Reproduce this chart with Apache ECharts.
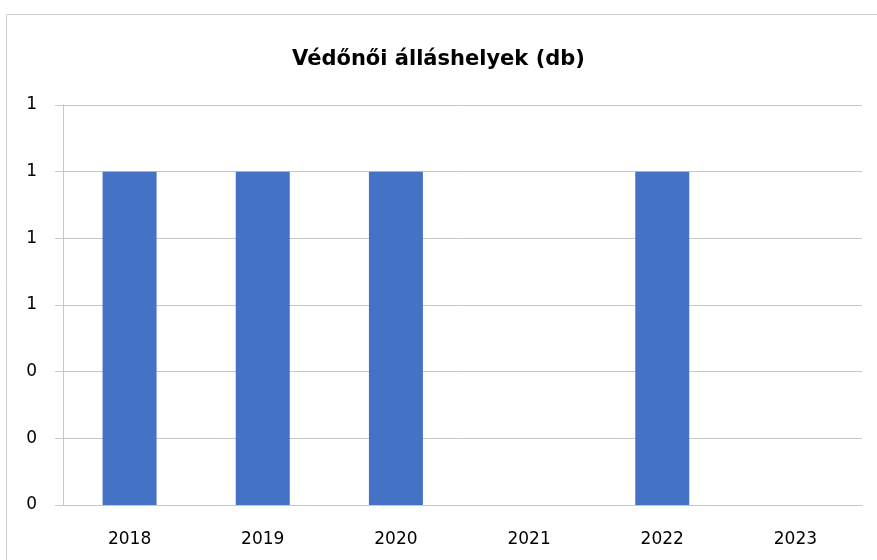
<!DOCTYPE html>
<html>
<head>
<meta charset="utf-8">
<script src="https://cdn.jsdelivr.net/npm/echarts@6/dist/echarts.min.js"></script>
<style>
  html, body { margin: 0; padding: 0; background: #fff; }
  #chart { width: 877px; height: 560px; }
</style>
</head>
<body>
<div id="chart"></div>
<script>
  // évek és védőnői álláshelyek száma
  var years = ['2018', '2019', '2020', '2021', '2022', '2023'];
  var positions = [1, 1, 1, 0, 1, 0];

  var chart = echarts.init(document.getElementById('chart'));
  var gray = '#c8c8c8';

  var option = {
    backgroundColor: '#fff',
    animation: false,
    title: {
      text: 'Védőnői álláshelyek (db)',
      left: 'center',
      top: 44,
      textStyle: {
        fontFamily: 'DejaVu Sans',
        fontWeight: 'bold',
        fontSize: 21,
        color: '#000'
      }
    },
    graphic: [{
      type: 'rect',
      shape: { x: 6.5, y: 14.5, width: 1000, height: 1000 },
      style: { fill: 'none', stroke: '#d0d0d0', lineWidth: 1 },
      silent: true
    }],
    grid: {
      left: 63,
      right: 15,
      top: 105,
      bottom: 55
    },
    xAxis: {
      type: 'category',
      data: years,
      axisLine: { lineStyle: { color: gray } },
      axisTick: { length: 8, lineStyle: { color: gray } },
      axisLabel: {
        margin: 26,
        fontFamily: 'DejaVu Sans',
        fontSize: 17,
        color: '#000'
      }
    },
    yAxis: {
      type: 'value',
      min: 0,
      max: 1.2,
      interval: 0.2,
      axisLine: { show: true, lineStyle: { color: gray } },
      axisTick: { show: true, length: 8, lineStyle: { color: gray } },
      splitLine: { lineStyle: { color: gray } },
      axisLabel: {
        margin: 26,
        fontFamily: 'DejaVu Sans',
        fontSize: 17,
        color: '#000',
        formatter: function(v) { return Math.round(v); }
      }
    },
    series: [{
      type: 'bar',
      data: positions,
      barWidth: 54,
      itemStyle: { color: '#4472c4' }
    }]
  };

  chart.setOption(option);
</script>
</body>
</html>
